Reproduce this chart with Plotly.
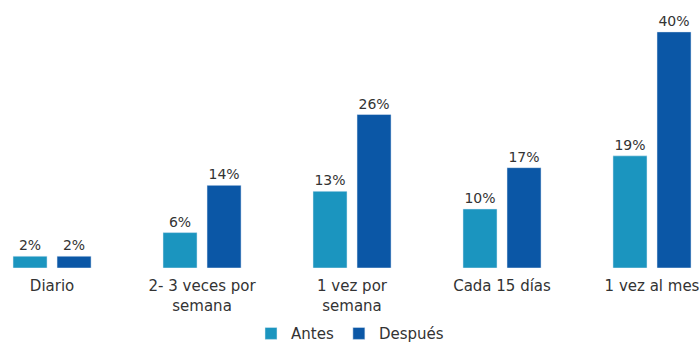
import plotly.graph_objects as go

categories = ["Diario", "2- 3 veces por<br>semana", "1 vez por<br>semana", "Cada 15 días", "1 vez al mes"]
antes = [2, 6, 13, 10, 19]
despues = [2, 14, 26, 17, 40]

c_antes = "#1b95bf"
c_desp = "#0b57a6"
font_fam = "'DejaVu Sans', sans-serif"

fig = go.Figure()
fig.add_trace(go.Bar(x=categories, y=antes, name="Antes", marker_color=c_antes,
                     text=[f"{v}%" for v in antes], textposition="outside",
                     textfont=dict(size=14, color="#333333"), cliponaxis=False))
fig.add_trace(go.Bar(x=categories, y=despues, name="Después", marker_color=c_desp,
                     text=[f"{v}%" for v in despues], textposition="outside",
                     textfont=dict(size=14, color="#333333"), cliponaxis=False))

fig.update_layout(
    width=700, height=343,
    margin=dict(l=0, r=0, t=0, b=75, autoexpand=False),
    paper_bgcolor="white", plot_bgcolor="white",
    barmode="group", bargap=0.413, bargroupgap=0.227,
    font=dict(family=font_fam, size=14, color="#333333"),
    showlegend=True,
    legend=dict(orientation="h", x=0.5, xanchor="center", y=-0.245, yanchor="middle",
                font=dict(size=15, color="#333333"), itemwidth=30, traceorder="normal"),
    xaxis=dict(range=[-0.347, 4.32], showline=False, showgrid=False, zeroline=False,
               ticks="outside", ticklen=4, tickcolor="rgba(0,0,0,0)",
               tickfont=dict(size=15, color="#333333")),
    yaxis=dict(range=[0, 45.4], visible=False),
)

fig.write_html("out.html")
